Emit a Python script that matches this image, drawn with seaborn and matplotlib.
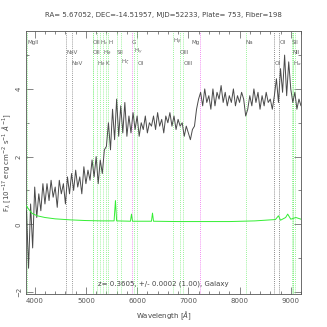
import numpy as np
import pandas as pd
import matplotlib
matplotlib.use('Agg')
import matplotlib.pyplot as plt
from matplotlib.ticker import MultipleLocator
import seaborn as sns

# spectrum, 40 A steps from 3840 to 9200
wave = np.arange(3840, 9201, 40)
flux = [0.4, -1.3, 0.6, -0.7,
        1.1, 0.2, 0.9, 0.4, 1.2, 0.6,
        1.2, 0.7, 1.3, 0.8, 1.1, 0.5, 1.3, 0.9, 1.2, 0.6, 1.4, 0.9,
        1.5, 1.0, 1.6, 1.1, 1.4, 0.9, 1.7, 1.2, 1.6, 1.3,
        1.9, 1.4, 2.0, 1.2, 1.9, 1.5, 2.2,
        2.3, 3.0, 2.2, 3.4, 2.5, 3.7, 2.6,
        3.5, 2.7, 3.6, 2.6, 3.2, 2.7, 3.3, 2.8, 3.2, 2.6, 3.0, 2.8, 3.2, 2.7, 3.0,
        2.9, 3.2, 2.8, 3.3, 2.9, 3.1, 2.7, 3.2, 3.0, 3.3, 2.9, 3.2, 2.8, 3.1, 2.9, 3.0, 2.6, 2.9, 2.7,
        2.5, 2.8, 2.9, 3.4, 3.7,
        3.9, 3.5, 4.0, 3.6, 3.8, 3.4, 4.0, 3.5, 3.9, 3.7, 4.1, 3.6, 3.9, 3.5, 3.8, 3.6, 4.0, 3.5, 3.8, 3.6, 3.9, 3.7,
        3.2, 3.4,
        3.8, 3.5, 4.0, 3.6, 3.9, 3.4, 3.8, 3.5, 3.9, 3.6, 3.7, 3.4, 3.8,
        4.3, 3.6, 4.6, 3.9, 5.0, 3.8, 4.8, 4.0,
        3.6, 3.9, 3.4, 3.7, 3.5]

# error spectrum (green)
err_wave = [3835, 3880, 3950, 4050, 4200, 4400, 4700, 5000, 5300, 5550, 5577, 5600,
            5870, 5890, 5910, 6280, 6300, 6320, 6800, 7300, 7800, 8300, 8500, 8700,
            8760, 8800, 8900, 8940, 9000, 9100, 9200]
err = [0.55, 0.45, 0.32, 0.25, 0.2, 0.16, 0.13, 0.11, 0.1, 0.1, 0.7, 0.1,
       0.09, 0.3, 0.09, 0.09, 0.33, 0.09, 0.08, 0.08, 0.08, 0.1, 0.12, 0.14,
       0.25, 0.12, 0.2, 0.3, 0.15, 0.2, 0.15]

# marked lines: observed wavelength, label, colour, label row, label side
line_wave = [3858, 4612, 4722, 5136, 5140, 5210, 5280, 5339, 5391, 5433, 5606, 5679,
             5893, 5944, 6000, 6705, 6836, 6901, 7226, 8124, 8678, 8775, 9022, 9040, 9050, 9074]
line_name = ['MgII', 'NeV', 'NeV', 'OII', 'OII', r'H$_\delta$', r'H$_\epsilon$', r'H$_\delta$', 'K', 'H',
             'SII', r'H$_\zeta$', 'G', r'H$_\gamma$', 'OI', r'H$_\beta$', 'OIII', 'OIII', 'Mg', 'Na',
             'OI', 'OI', 'SII', 'NII', r'H$_\alpha$', '']
line_color = ['#77ee77', '#777777', '#777777', '#77ee77', '#77ee77', '#77ee77', '#77ee77', '#77ee77',
              '#77ee77', '#77ee77', '#77ee77', '#77ee77', '#ee66ee', '#77ee77', '#77ee77', '#77ee77',
              '#77ee77', '#77ee77', '#ee66ee', '#77ee77', '#666666', '#666666', '#77ee77', '#77ee77',
              '#77ee77', '#77ee77']
line_row = [0, 1, 2, 0, 1, 2, 0, 1, 2, 0, 1, 2,
            0, 1, 2, 0, 1, 2, 0, 0, 2, 0, 0, 1, 2, 0]
line_ha = ['left'] * 18 + ['right'] + ['left'] * 7

spec = pd.DataFrame({'wave': wave, 'flux': flux})
noise = pd.DataFrame({'wave': err_wave, 'err': err})

sns.set_style('ticks')
plt.rcParams['font.family'] = ['DejaVu Sans']

fig = plt.figure(figsize=(3.27, 3.27), dpi=100)
ax = fig.add_axes([0.0795, 0.101, 0.841, 0.804])

for w, c in zip(line_wave, line_color):
    ax.axvline(w, color=c, lw=0.6, ls=(0, (1, 1.5)), zorder=1)

sns.lineplot(data=spec, x='wave', y='flux', color='#4a4a4a', lw=0.7,
             estimator=None, sort=False, ax=ax, zorder=3)
sns.lineplot(data=noise, x='wave', y='err', color='#33ee33', lw=0.7,
             estimator=None, sort=False, ax=ax, zorder=4)

ax.set_xlim(3830, 9200)
ax.set_ylim(-2.06, 5.71)

row_y = [5.38, 5.08, 4.76]
for w, n, r, h in zip(line_wave, line_name, line_row, line_ha):
    ax.text(w, row_y[r], n, fontsize=4.1, color='#666666', ha=h, va='center', zorder=5)

ax.text(0.5, 0.025, 'z= 0.3605, +/- 0.0002 (1.00), Galaxy', transform=ax.transAxes,
        fontsize=5, color='#444444', ha='center', va='bottom')

ax.set_title('RA= 5.67052, DEC=-14.51957, MJD=52233, Plate= 753, Fiber=198',
             fontsize=5, color='#444444', pad=10)
ax.set_xlabel(r'Wavelength [$\AA$]', fontsize=5, color='#444444', labelpad=4)
ax.set_ylabel(r'F$_\lambda$ [10$^{-17}$ erg cm$^{-2}$ s$^{-1}$ $\AA^{-1}$]', fontsize=5, color='#444444', labelpad=2)

ax.xaxis.set_major_locator(MultipleLocator(1000))
ax.xaxis.set_minor_locator(MultipleLocator(200))
ax.yaxis.set_major_locator(MultipleLocator(2))
ax.yaxis.set_minor_locator(MultipleLocator(1))
ax.tick_params(which='both', direction='in', top=True, right=True, colors='#555555',
               labelsize=5, width=0.5, pad=3)
ax.tick_params(which='major', length=5)
ax.tick_params(which='minor', length=2.5)
for lab in ax.get_yticklabels():
    lab.set_rotation(90)
    lab.set_va('center')
for s in ax.spines.values():
    s.set_color('#555555')
    s.set_linewidth(0.6)

fig.savefig('out.png', dpi=100, facecolor='white')
